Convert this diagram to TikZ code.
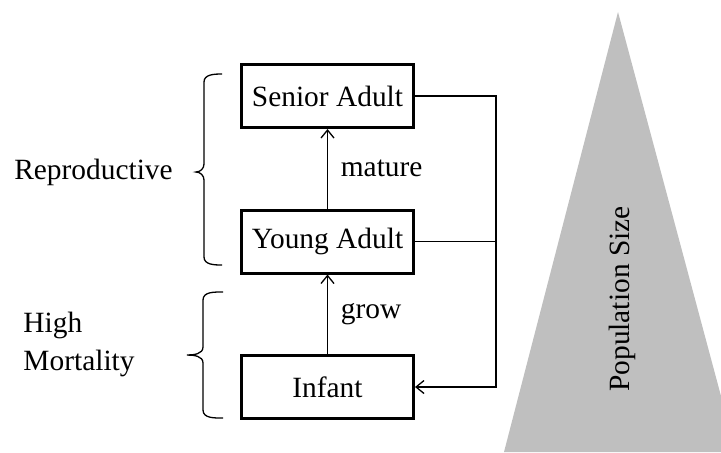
\documentclass[tikz,border=0pt]{standalone}
\usepackage{fontspec}
\setmainfont{Liberation Serif}
\usetikzlibrary{arrows.meta}
\definecolor{pyramidgray}{RGB}{191,191,191}

\tikzset{
  stage/.style={draw, line width=1.5pt, minimum width=86pt, minimum height=31.5pt, inner sep=0pt},
  link/.style={line width=0.65pt},
}

\begin{document}
\begin{tikzpicture}[x=0.5pt, y=-0.5pt, font=\fontsize{14.7}{19}\selectfont,
    >={Straight Barb[length=4pt,width=6.5pt]}]
    \clip (0,0) rectangle (721,452);

    % Pyramid
    \fill[pyramidgray] (618,12) -- (736,452) -- (504,452) -- cycle;
    \node[rotate=90] (pop) at (622,299) {Population Size};

    % Life stages
    \node[stage] (senior) at (327.5,96) {Senior Adult};
    \node[stage] (young) at (327.5,241.5) {Young Adult};
    \node[stage] (infant) at (327.5,387) {Infant};

    \draw[link,->] (young) -- (senior) node[midway, right=3pt] (mat) {mature};
    \draw[link,->] (infant) -- (young) node[midway, right=3pt] (grw) {grow};

    % Reproduction back to infants
    \coordinate (back) at (496,387);
    \draw[link,->] (senior.east) -| (back) -- (infant.east);
    \draw[link] (young.east) -- (young.east -| back);

    % Groups
    \draw[link] (222,74) to[out=180, in=90] (204,82) -- (204,164)
        to[out=-90, in=0] (196,172) to[out=0, in=90] (204,180)
        -- (204,257) to[out=-90, in=180] (222,265);
    \draw[link] (223,292) to[out=180, in=90] (203,300) -- (203,347)
        to[out=-90, in=0] (187,355) to[out=0, in=90] (203,363)
        -- (203,410) to[out=-90, in=180] (223,418);
    \node (repro) at (93.5,172) {Reproductive};
    \node[align=left] (mort) at (79,344) {High\\Mortality};
\end{tikzpicture}
\end{document}
